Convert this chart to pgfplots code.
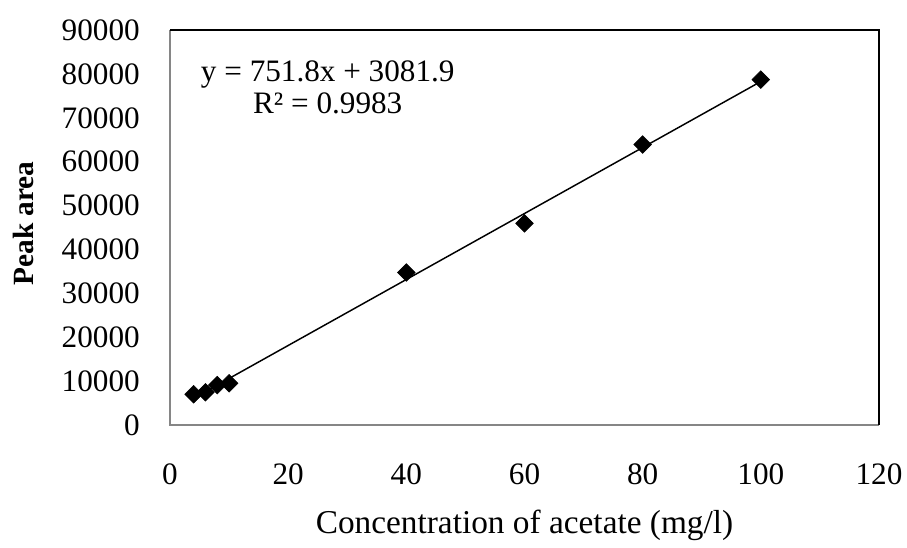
\documentclass[border=0pt]{standalone}
\usepackage{fontspec}
\setmainfont{Liberation Serif}
\usepackage{pgfplots}
\pgfplotsset{compat=1.18}
\definecolor{framegray}{HTML}{868686}

\begin{document}
\begin{tikzpicture}
\begin{axis}[
    name=ax,
    scale only axis,
    width=531.75pt, height=296.25pt,
    xmin=0, xmax=120, ymin=0, ymax=90000,
    xtick={0,20,...,120},
    ytick={0,10000,...,90000},
    scaled y ticks=false,
    /pgf/number format/assume math mode=true,
    /pgf/number format/set thousands separator={},
    axis line style={draw=none},
    major tick length=0pt,
    tick style={draw=none},
    font=\fontsize{23.4pt}{28pt}\selectfont,
    yticklabel style={anchor=east, inner sep=0pt, xshift=-22.5pt},
    xticklabel style={anchor=north, inner sep=0pt, yshift=-28.5pt},
    xlabel={Concentration of acetate (mg/l)},
    ylabel={\bfseries Peak area},
    x label style={at={(axis description cs:0.5,-0.274)}, anchor=base, inner sep=0pt,
                   font=\fontsize{25pt}{30pt}\selectfont},
    y label style={at={(axis description cs:-0.1932,0.51)}, anchor=base, inner sep=0pt,
                   font=\fontsize{22pt}{27pt}\selectfont},
    clip=false,
]
% measured points
\addplot[only marks, mark=square*, mark size=4.7pt, mark options={rotate=45, fill=black, draw=black}]
coordinates {
    (4, 7000) (6, 7450) (8, 9100) (10, 9500)
    (40, 34750) (60, 45950) (80, 63900) (100, 78700)
};
% linear trendline y = 751.8x + 3081.9, drawn from x=4 to x=100
\addplot[black, line width=1.1pt, no marks] coordinates {
    (4, 6089.1) (100, 78261.9)
};
\draw[framegray, line width=1.5pt] (rel axis cs:0,1) -- (rel axis cs:0,0) -- (rel axis cs:1,0);
\draw[black, line width=1.5pt] (rel axis cs:0,1) -- (rel axis cs:1,1) -- (rel axis cs:1,0);
\node[anchor=base] at (axis cs:26.7,78220) {y = 751.8x + 3081.9};
\node[anchor=base] at (axis cs:26.7,71020) {R² = 0.9983};
\end{axis}
\pgfresetboundingbox
\path[use as bounding box] ([shift={(-127.5pt,-91.5pt)}]ax.south west) rectangle ++(680.25pt,410.25pt);
\end{tikzpicture}
\end{document}
